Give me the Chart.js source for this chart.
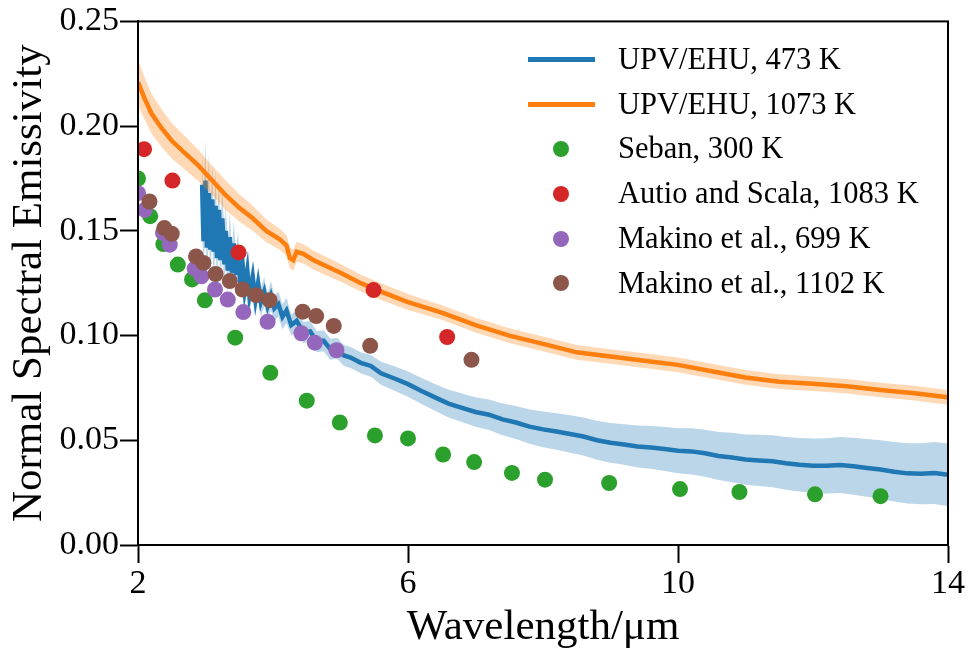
<!DOCTYPE html>
<html>
<head>
<meta charset="utf-8">
<title>Normal spectral emissivity</title>
<script src="https://cdn.jsdelivr.net/npm/chart.js@4.4.1/dist/chart.umd.min.js"></script>
<style>
  body { margin: 0; background: #fff; }
  #wrap { position: relative; width: 969px; height: 651px; }
  #legend {
    position: absolute; left: 528px; top: 37px;
    font-family: 'Liberation Serif', serif; font-size: 30.5px; color: #000;
  }
  .row { display: flex; align-items: center; height: 44.8px; white-space: nowrap; }
  .key { width: 90px; height: 20px; position: relative; flex: none; }
  .key .ln { position: absolute; left: 0; top: 8px; width: 67px; height: 4.5px; }
  .key .dot { position: absolute; left: 25px; top: 2px; width: 16px; height: 16px; border-radius: 50%; }
</style>
</head>
<body>
<div id="wrap">
  <canvas id="chart" width="969" height="651"></canvas>
  <div id="legend"></div>
</div>
<script>
// values (wavelength in um, emissivity)
const xTicks = [2, 6, 10, 14];
const yTicks = [0, 0.05, 0.10, 0.15, 0.20, 0.25];

// UPV/EHU 473 K (noisy below ~4.4 um)
const blueWl = [2.95, 2.97, 3.0, 3.02, 3.05, 3.07, 3.1, 3.12, 3.15, 3.17,
  3.2, 3.22, 3.25, 3.28, 3.3, 3.33, 3.36, 3.39, 3.42, 3.45,
  3.48, 3.51, 3.55, 3.58, 3.62, 3.65, 3.7, 3.74, 3.78, 3.82,
  3.87, 3.92, 3.97, 4.02, 4.08, 4.14, 4.2, 4.27, 4.35, 4.45,
  4.55, 4.65, 4.75, 4.85, 4.95, 5.05, 5.15, 5.3, 5.45, 5.6, 5.8,
  6.0, 6.2, 6.4, 6.6, 6.8, 7.0, 7.2, 7.4, 7.6, 7.8,
  8.0, 8.2, 8.4, 8.6, 8.8, 9.0, 9.2, 9.4, 9.6, 9.8,
  10.0, 10.2, 10.4, 10.6, 10.8, 11.0, 11.2, 11.4, 11.6, 11.8,
  12.0, 12.2, 12.4, 12.6, 12.8, 13.0, 13.2, 13.4, 13.6, 13.8, 14.0];
const blue473 = [0.172, 0.145, 0.174, 0.142, 0.168, 0.141, 0.165, 0.140, 0.162, 0.137,
  0.160, 0.136, 0.156, 0.134, 0.150, 0.131, 0.147, 0.130, 0.144, 0.129,
  0.140, 0.127, 0.134, 0.122, 0.131, 0.119, 0.128, 0.117, 0.125, 0.116,
  0.121, 0.114, 0.119, 0.113, 0.115, 0.109, 0.112, 0.105, 0.107, 0.1015,
  0.102, 0.097, 0.0975, 0.0935, 0.094, 0.0905, 0.0895, 0.087, 0.0855, 0.082, 0.0795,
  0.0768, 0.0735, 0.0705, 0.0675, 0.0655, 0.0635, 0.0622, 0.0600, 0.0585, 0.0565,
  0.0552, 0.0542, 0.0530, 0.0518, 0.0500, 0.0488, 0.0480, 0.0470, 0.0466, 0.0458,
  0.0450, 0.0447, 0.0438, 0.0425, 0.0418, 0.0408, 0.0404, 0.0400, 0.0390, 0.0383,
  0.0378, 0.0378, 0.0382, 0.0376, 0.0368, 0.0360, 0.0350, 0.0342, 0.0340, 0.0344, 0.0335];
const blueSpread = [0.020, 0.016, 0.020, 0.016, 0.019, 0.015, 0.018, 0.015, 0.017, 0.014,
  0.016, 0.013, 0.015, 0.012, 0.013, 0.011, 0.012, 0.010, 0.011, 0.009,
  0.010, 0.009, 0.009, 0.008, 0.009, 0.008, 0.008, 0.007, 0.008, 0.007,
  0.007, 0.006, 0.007, 0.006, 0.006, 0.006, 0.006, 0.005, 0.005, 0.005,
  0.005, 0.005, 0.005, 0.005, 0.005, 0.005, 0.005, 0.005, 0.0052, 0.0055, 0.0058,
  0.0060, 0.0062, 0.0064, 0.0066, 0.0068, 0.0070, 0.0073, 0.0076, 0.0079, 0.0082,
  0.0085, 0.0087, 0.0089, 0.0091, 0.0093, 0.0095, 0.0097, 0.0100, 0.0102, 0.0105,
  0.0107, 0.0110, 0.0112, 0.0115, 0.0118, 0.0120, 0.0122, 0.0124, 0.0126, 0.0128,
  0.0130, 0.0132, 0.0134, 0.0136, 0.0138, 0.0140, 0.0142, 0.0144, 0.0146, 0.0148, 0.0150];

// UPV/EHU 1073 K
const orangeWl = [2.0, 2.1, 2.2, 2.35, 2.5, 2.7, 2.9, 3.1, 3.3, 3.5,
  3.7, 3.9, 4.1, 4.2, 4.25, 4.3, 4.35, 4.45, 4.6, 4.8,
  5.0, 5.3, 5.6, 6.0, 6.5, 7.0, 7.5, 8.0, 8.5, 9.0,
  9.5, 10.0, 10.5, 11.0, 11.5, 12.0, 12.5, 13.0, 13.5, 14.0];
const orange1073 = [0.221, 0.213, 0.206, 0.199, 0.193, 0.187, 0.181, 0.174, 0.167, 0.161,
  0.156, 0.150, 0.146, 0.143, 0.137, 0.136, 0.140, 0.139, 0.136, 0.133,
  0.130, 0.125, 0.121, 0.116, 0.111, 0.105, 0.100, 0.096, 0.092, 0.090,
  0.088, 0.086, 0.083, 0.080, 0.078, 0.077, 0.0758, 0.074, 0.0725, 0.0705];
const orangeSpread = [0.011, 0.010, 0.0095, 0.009, 0.0085, 0.008, 0.0075, 0.007, 0.007, 0.0065,
  0.006, 0.0055, 0.005, 0.005, 0.005, 0.005, 0.0048, 0.0046, 0.0045, 0.0044,
  0.0042, 0.004, 0.004, 0.0038, 0.0035, 0.0035, 0.0035, 0.0035, 0.0035, 0.0035,
  0.0035, 0.0035, 0.0035, 0.0035, 0.0035, 0.0035, 0.0035, 0.0035, 0.0035, 0.0035];

// literature points
const sebanWl = [2.0, 2.18, 2.375, 2.59, 2.8, 2.99, 3.44, 3.96, 4.5, 4.99, 5.51, 6.0,
  6.52, 6.98, 7.54, 8.03, 8.98, 10.03, 10.91, 12.03, 13.0];
const seban300 = [0.175, 0.157, 0.1437, 0.1339, 0.1268, 0.1168, 0.099, 0.0822, 0.0689, 0.0585, 0.0523, 0.0509,
  0.0432, 0.0396, 0.0344, 0.0312, 0.0296, 0.0267, 0.0253, 0.0242, 0.0233];

const autioWl = [2.09, 2.51, 3.49, 5.49, 6.58];
const autio1083 = [0.189, 0.174, 0.1397, 0.1217, 0.0993];

const makinoWl699 = [2.0, 2.1, 2.37, 2.47, 2.84, 2.94, 3.14, 3.33, 3.56, 3.92, 4.42, 4.62, 4.94];
const makino699 = [0.168, 0.160, 0.149, 0.1434, 0.132, 0.1283, 0.122, 0.1172, 0.1112, 0.1066, 0.1011, 0.0966, 0.093];

const makinoWl1102 = [2.17, 2.39, 2.5, 2.86, 2.97, 3.15, 3.36, 3.55, 3.75, 3.95, 4.44, 4.64, 4.9, 5.44, 6.94];
const makino1102 = [0.164, 0.1513, 0.1486, 0.1378, 0.1347, 0.1294, 0.126, 0.122, 0.1193, 0.1169, 0.1114, 0.1093, 0.1046, 0.0951, 0.0884];

const pts = (xs, ys) => xs.map((x, i) => ({ x: x, y: ys[i] }));
const shift = (xs, ys, d, sign) => xs.map((x, i) => ({ x: x, y: ys[i] + sign * d[i] }));

const band = (data, color, order, fill) => ({
  data: data, showLine: true, pointRadius: 0, borderWidth: 0,
  backgroundColor: color, fill: fill, order: order, clip: 0
});
const curve = (label, data, color, order) => ({
  label: label, data: data, showLine: true, pointRadius: 0, borderWidth: 4.5,
  borderColor: color, fill: false, order: order, clip: 0, legendKind: 'line'
});
const dots = (label, data, color, order) => ({
  label: label, data: data, showLine: false, pointRadius: 8, pointBorderWidth: 0,
  pointBackgroundColor: color, backgroundColor: color, borderColor: color,
  order: order, clip: 0, legendKind: 'dot'
});

const datasets = [
  band(shift(blueWl, blue473, blueSpread, 1), 'rgba(31,119,180,0.3)', 13, '+1'),
  band(shift(blueWl, blue473, blueSpread, -1), 'rgba(31,119,180,0.3)', 13, false),
  curve('UPV/EHU, 473 K', pts(blueWl, blue473), '#1f77b4', 12),
  band(shift(orangeWl, orange1073, orangeSpread, 1), 'rgba(255,127,14,0.3)', 11, '+1'),
  band(shift(orangeWl, orange1073, orangeSpread, -1), 'rgba(255,127,14,0.3)', 11, false),
  curve('UPV/EHU, 1073 K', pts(orangeWl, orange1073), '#ff7f0e', 10),
  dots('Seban, 300 K', pts(sebanWl, seban300), '#2ca02c', 3),
  dots('Autio and Scala, 1083 K', pts(autioWl, autio1083), '#d62728', 2),
  dots('Makino et al., 699 K', pts(makinoWl699, makino699), '#9467bd', 1),
  dots('Makino et al., 1102 K', pts(makinoWl1102, makino1102), '#8c564b', 0)
];

// box around the plot area
const frame = {
  id: 'frame',
  afterDatasetsDraw(chart) {
    const { ctx, chartArea: a } = chart;
    ctx.save();
    ctx.strokeStyle = '#000';
    ctx.lineWidth = 2;
    ctx.strokeRect(a.left, a.top, a.right - a.left, a.bottom - a.top);
    ctx.restore();
  }
};

Chart.defaults.font.family = "'Liberation Serif', serif";
Chart.defaults.color = '#000';

const axisGrid = { drawOnChartArea: false, drawTicks: true, tickLength: 18, tickWidth: 2, tickColor: '#000' };

const chart = new Chart(document.getElementById('chart'), {
  type: 'line',
  data: { datasets: datasets },
  plugins: [frame],
  options: {
    responsive: false,
    animation: false,
    events: [],
    layout: { padding: { top: 19, right: 21, left: 0, bottom: 0 } },
    plugins: { legend: { display: false }, tooltip: { enabled: false } },
    scales: {
      x: {
        type: 'linear', min: 2, max: 14,
        afterBuildTicks: s => { s.ticks = xTicks.map(v => ({ value: v })); },
        afterFit: s => { s.height = 106; },
        grid: axisGrid,
        border: { display: true, color: '#000', width: 2 },
        ticks: { font: { size: 34 }, padding: 1, maxRotation: 0, autoSkip: false },
        title: { display: true, text: 'Wavelength/μm', font: { size: 43 }, padding: { top: 0, bottom: -3 } }
      },
      y: {
        type: 'linear', min: 0, max: 0.25,
        afterBuildTicks: s => { s.ticks = yTicks.map(v => ({ value: v })); },
        afterFit: s => { s.width = 138; },
        grid: axisGrid,
        border: { display: true, color: '#000', width: 2 },
        ticks: { font: { size: 34 }, padding: 1, autoSkip: false, callback: v => v.toFixed(2) },
        title: { display: true, text: 'Normal Spectral Emissivity', font: { size: 43 }, padding: { top: 4, bottom: 0 } }
      }
    }
  }
});

// legend inside the plot, built from the datasets
const legend = document.getElementById('legend');
chart.data.datasets.filter(d => d.legendKind).forEach(d => {
  const row = document.createElement('div');
  row.className = 'row';
  const key = document.createElement('div');
  key.className = 'key';
  const mark = document.createElement('div');
  if (d.legendKind === 'line') {
    mark.className = 'ln';
    mark.style.background = d.borderColor;
  } else {
    mark.className = 'dot';
    mark.style.background = d.pointBackgroundColor;
  }
  key.appendChild(mark);
  const text = document.createElement('span');
  text.textContent = d.label;
  row.appendChild(key);
  row.appendChild(text);
  legend.appendChild(row);
});
</script>
</body>
</html>
